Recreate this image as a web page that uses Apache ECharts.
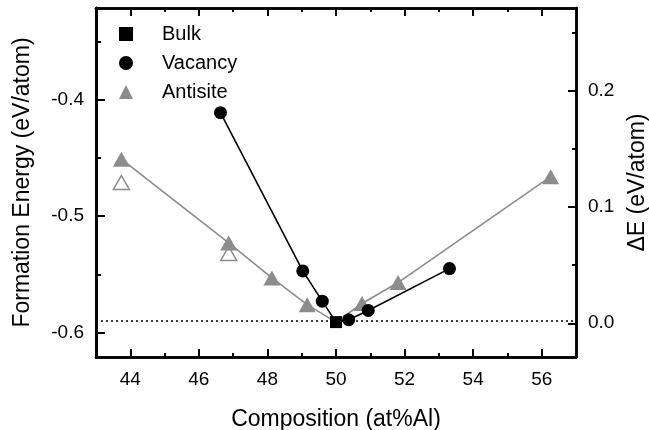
<!DOCTYPE html>
<html>
<head>
<meta charset="utf-8">
<script src="https://cdn.jsdelivr.net/npm/echarts@6/dist/echarts.min.js"></script>
<style>
  html, body { margin: 0; padding: 0; background: #fff; }
  #main { width: 649px; height: 430px; }
</style>
</head>
<body>
<div id="main"></div>
<script>
// data
var vacancyX = [46.63, 49.03, 49.6, 50.37, 50.94, 53.31];
var vacancyE = [-0.411, -0.547, -0.573, -0.589, -0.581, -0.545];
var bulkX = [50.0];
var bulkE = [-0.591];
var antisiteX = [43.74, 46.87, 48.13, 49.16, 50.76, 51.81, 56.26];
var antisiteE = [-0.451, -0.523, -0.553, -0.576, -0.575, -0.557, -0.466];
var antisiteOpenX = [43.74, 46.87];
var antisiteOpenE = [-0.471, -0.532];

var xMajor = [44, 46, 48, 50, 52, 54, 56];
var xMinor = [45, 47, 49, 51, 53, 55];
var yMajor = [-0.6, -0.5, -0.4];
var yMinor = [-0.55, -0.45, -0.35];
var dMajor = [0.0, 0.1, 0.2];
var dMinor = [0.05, 0.15, 0.25];

var xMin = 43, xMax = 57;
var yMin = -0.621, yMax = -0.321;
var dOffset = 0.592; // ΔE = E - E(bulk)

function pts(xs, ys) {
    return xs.map(function (x, i) { return [x, ys[i]]; });
}
function withBulk(xs, ys) {
    var p = pts(xs, ys).concat(pts(bulkX, bulkE));
    p.sort(function (a, b) { return a[0] - b[0]; });
    return p;
}

var FONT = '"Liberation Sans", Arial, Helvetica, sans-serif';
var AXC = '#000';

function xAxisDef(pos, ticks, len, labels, extra) {
    var a = {
        type: 'value', position: pos, min: xMin, max: xMax,
        axisLine: { show: true, onZero: false, lineStyle: { color: AXC, width: 2.5 } },
        axisTick: { show: len > 0, inside: true, length: len, customValues: ticks, lineStyle: { color: AXC, width: 2 } },
        axisLabel: labels ? { show: true, customValues: ticks, color: '#000', fontSize: 19, fontFamily: FONT, margin: 13 } : { show: false },
        splitLine: { show: false }
    };
    return Object.assign(a, extra || {});
}
function yAxisDef(pos, min, max, ticks, len, labels, extra) {
    var a = {
        type: 'value', position: pos, min: min, max: max,
        axisLine: { show: true, onZero: false, lineStyle: { color: AXC, width: 2.5 } },
        axisTick: { show: len > 0, inside: true, length: len, customValues: ticks, lineStyle: { color: AXC, width: 2 } },
        axisLabel: labels ? {
            show: true, customValues: ticks, color: '#000', fontSize: 19, fontFamily: FONT, margin: 12,
            formatter: function (v) { return v.toFixed(1); }
        } : { show: false },
        splitLine: { show: false }
    };
    return Object.assign(a, extra || {});
}

// left major ticks vanish at the exact label values, nudge them a hair
var yMajorTicks = yMajor.map(function (v) { return v + 0.0001; });

var myChart = echarts.init(document.getElementById('main'));
var option = {
    animation: false,
    backgroundColor: '#fff',
    grid: { left: 96, right: 73, top: 8, bottom: 73, containLabel: false, outerBoundsMode: 'none' },
    legend: {
        orient: 'vertical',
        left: 119,
        top: 24,
        itemWidth: 14,
        itemHeight: 14,
        itemGap: 9,
        padding: 0,
        data: ['Bulk', 'Vacancy', 'Antisite'],
        textStyle: { fontSize: 20, fontFamily: FONT, color: '#000', padding: [0, 0, 0, 24] }
    },
    xAxis: [
        xAxisDef('bottom', xMajor, 8, true, {
            name: 'Composition (at%Al)', nameLocation: 'middle', nameGap: 51,
            nameTextStyle: { fontSize: 23, fontFamily: FONT, color: '#000' }
        }),
        xAxisDef('bottom', xMinor, 4, false),
        xAxisDef('top', xMajor, 8, false),
        xAxisDef('top', xMinor, 4, false)
    ],
    yAxis: [
        yAxisDef('left', yMin, yMax, yMajor, 0, true, {
            name: 'Formation Energy (eV/atom)', nameLocation: 'middle', nameGap: 62, nameRotate: 90,
            nameTextStyle: { fontSize: 23, fontFamily: FONT, color: '#000' }
        }),
        yAxisDef('left', yMin, yMax, yMinor, 5, false),
        yAxisDef('left', yMin, yMax, yMajorTicks, 9, false),
        yAxisDef('right', yMin + dOffset, yMax + dOffset, dMajor, 8, true, {
            name: 'ΔE (eV/atom)', nameLocation: 'middle', nameGap: 50, nameRotate: 90,
            nameTextStyle: { fontSize: 23, fontFamily: FONT, color: '#000' }
        }),
        yAxisDef('right', yMin + dOffset, yMax + dOffset, dMinor, 4, false)
    ],
    series: [
        {
            type: 'line', data: withBulk(antisiteX, antisiteE), symbol: 'none', z: 2,
            lineStyle: { color: '#8c8c8c', width: 1.6 }
        },
        {
            type: 'line', data: withBulk(vacancyX, vacancyE), symbol: 'none', z: 3,
            lineStyle: { color: '#000', width: 1.6 },
            markLine: {
                silent: true, symbol: 'none', label: { show: false },
                lineStyle: { color: '#000', type: [2, 3], width: 1.5 },
                data: [{ yAxis: bulkE[0] }]
            }
        },
        {
            type: 'scatter', data: pts(antisiteOpenX, antisiteOpenE), z: 4,
            symbol: 'triangle', symbolSize: [16, 14],
            itemStyle: { color: '#fff', borderColor: '#8c8c8c', borderWidth: 1.5, opacity: 1 }
        },
        {
            name: 'Antisite', type: 'scatter', data: pts(antisiteX, antisiteE), z: 5,
            symbol: 'triangle', symbolSize: [17, 15],
            itemStyle: { color: '#8c8c8c', opacity: 1 }
        },
        {
            name: 'Vacancy', type: 'scatter', data: pts(vacancyX, vacancyE), z: 6,
            symbol: 'circle', symbolSize: 13,
            itemStyle: { color: '#000', opacity: 1 }
        },
        {
            name: 'Bulk', type: 'scatter', data: pts(bulkX, bulkE), z: 7,
            symbol: 'rect', symbolSize: 12,
            itemStyle: { color: '#000', opacity: 1 }
        }
    ]
};
myChart.setOption(option);
</script>
</body>
</html>
